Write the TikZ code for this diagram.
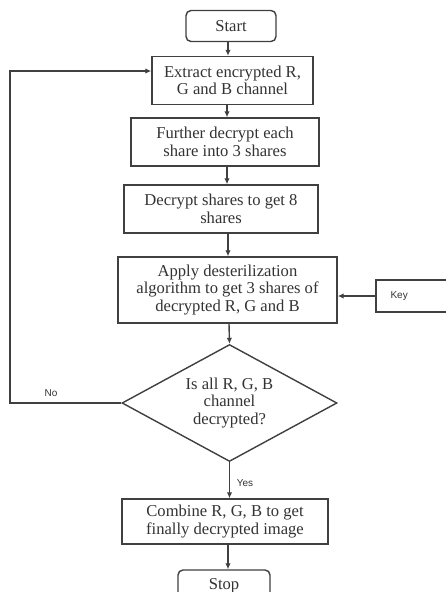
\documentclass[tikz,border=0pt]{standalone}
\usepackage{fontspec}
\setmainfont{Liberation Serif}
\newfontfamily\lsans{Liberation Sans}
\usetikzlibrary{shapes.geometric,arrows.meta}
\begin{document}
\begin{tikzpicture}[x=1pt,y=-1pt,
  line/.style={draw=black!75,line width=1.4pt},
  arr/.style={line,-{Latex[length=6pt,width=5.5pt]}},
  procbox/.style={line,rectangle,inner sep=0pt,align=center,text=black!80,
    font=\fontsize{16.6}{17.5}\selectfont},
  termbox/.style={procbox,rounded corners=5pt},
  lbl/.style={font=\lsans\fontsize{10}{12}\selectfont,text=black!80}]
\useasboundingbox (0,0) rectangle (446,592);
\fill[white] (0,0) rectangle (446,592);
\begin{scope}
\clip (0,0) rectangle (446,592);
\node[termbox,minimum width=90pt,minimum height=31pt] (start) at (231,26) {Start};
\node[procbox,minimum width=161pt,minimum height=48pt] (b1) at (232.5,80.5) {Extract encrypted R,\\G and B channel};
\node[procbox,minimum width=188pt,minimum height=48pt] (b2) at (225,142) {Further decrypt each\\share into 3 shares};
\node[procbox,minimum width=194pt,minimum height=48pt] (b3) at (221,209) {Decrypt shares to get 8\\shares};
\node[procbox,minimum width=219pt,minimum height=66pt] (b4) at (227.5,290) {Apply desterilization\\algorithm to get 3 shares of\\decrypted R, G and B};
\node[line,rectangle,minimum width=76pt,minimum height=32pt,inner sep=0pt] (key) at (414,296) {};
\node[lbl,anchor=west] (keyt) at (387,296) {Key};
\node[line,diamond,aspect=1.84,minimum width=215pt,minimum height=117pt,inner sep=0pt,align=center,text=black!80,
  font=\fontsize{16.6}{17.5}\selectfont] (dec) at (229.5,403) {Is all R, G, B\\channel\\decrypted?};
\node[procbox,minimum width=206pt,minimum height=45pt] (b5) at (225,521.5) {Combine R, G, B to get\\finally decrypted image};
\node[termbox,minimum width=92pt,minimum height=32pt] (stop) at (224,586) {Stop};
\coordinate (c1) at (10,403);
\coordinate (c2) at (10,71);
\draw[arr] (start.south -| 228,0) -- (b1.north -| 228,0);
\draw[arr] (b1.south -| 227,0) -- (b2.north -| 227,0);
\draw[arr] (b2.south -| 227,0) -- (b3.north -| 227,0);
\draw[arr] (b3.south -| 228,0) -- (b4.north -| 228,0);
\draw[arr] (b4.south -| 229,0) -- (dec.north);
\draw[arr] (key.west) -- (b4.east |- key.west);
\draw[arr] (dec.west) -- (c1) -- (c2) -- (b1.west |- c2);
\draw[arr] (dec.south) -- (b5.north -| dec.south);
\draw[arr] (b5.south -| 228,0) -- (stop.north -| 228,0);
\node[lbl] (no) at (51,393) {No};
\node[lbl] (yes) at (245,483) {Yes};
\end{scope}
\end{tikzpicture}
\end{document}
